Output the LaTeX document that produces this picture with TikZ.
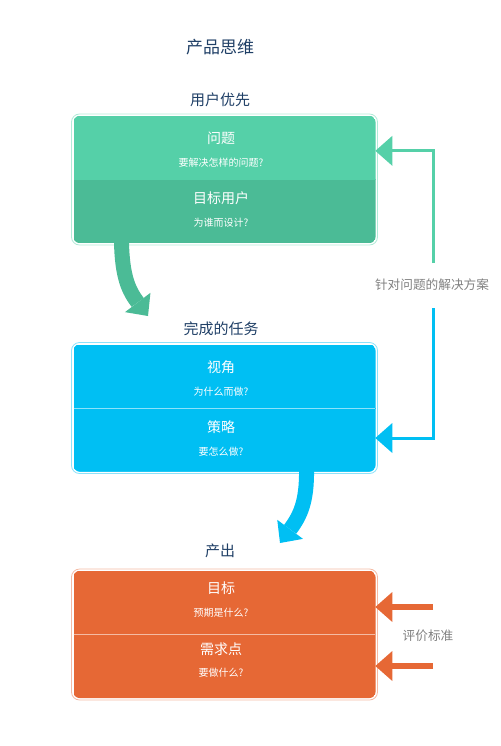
\documentclass[tikz,border=0pt]{standalone}
\usepackage{fontspec}
\newfontfamily\cjk{Noto Sans CJK SC}
\usetikzlibrary{arrows.meta,calc}

\definecolor{greenA}{HTML}{55D0A8}
\definecolor{greenB}{HTML}{4BBB96}
\definecolor{blueA}{HTML}{00BFF3}
\definecolor{orangeA}{HTML}{E66835}
\definecolor{navy}{HTML}{1F3F66}
\definecolor{labelgray}{HTML}{808080}

\tikzset{every picture/.style={line width=0.75pt}}
\tikzset{
  maintitle/.style={font=\cjk\fontsize{12.75}{15}\selectfont, text=navy, inner sep=0.75pt},
  heading/.style={font=\cjk\fontsize{11.25}{13}\selectfont, text=navy, inner sep=0.75pt},
  boxtitle/.style={font=\cjk\fontsize{10.5}{12}\selectfont, text=white, inner sep=0.75pt},
  boxnote/.style={font=\cjk\fontsize{7.5}{9}\selectfont, text=white, inner sep=0.75pt},
  sidenote/.style={font=\cjk\fontsize{9.5}{11}\selectfont, text=labelgray, inner sep=0.75pt},
  box/.style={rectangle, minimum width=225.75pt, minimum height=94.5pt, inner sep=0pt},
  part/.style={rectangle, minimum width=225.75pt, minimum height=47.25pt, inner sep=0pt, fill=#1, draw=#1, line width=0.5pt},
  halo/.style={draw=#1!45, line width=0.6pt, rounded corners=6pt},
  divider/.style={draw=#1!45!white, line width=0.75pt},
  bend arrow/.style={draw=#1, line width=11.25pt, -{Triangle[length=12.75pt,width=24pt,line width=0pt]}},
  side arrow/.style={draw=#1, line width=2.25pt, -{Triangle[length=12.75pt,width=22.5pt,line width=0pt]}},
}

\begin{document}
\begin{tikzpicture}[x=0.75pt,y=0.75pt,yscale=-1,xscale=1]
\useasboundingbox (0,0) rectangle (500,746);

% Text Node
\node[maintitle] (title) at (220,47) {产品思维};
\node[heading] (h1) at (220,100) {用户优先};
\node[heading] (h2) at (221,329) {完成的任务};
\node[heading] (h3) at (220,551) {产出};

%Shape: Rectangle (boxes)
\node[box] (green) at (224.5,179.5) {};
\node[box] (blue) at (224.5,408) {};
\node[box] (orange) at (224.5,634.5) {};

\begin{scope}
  \clip[rounded corners=4.5pt] (green.south west) rectangle (green.north east);
  \node[part=greenB, anchor=north] (g2) at ($(green.north)+(0,63)$) {};
  \node[part=greenA, anchor=north] (g1) at (green.north) {};
\end{scope}
\begin{scope}
  \clip[rounded corners=4.5pt] (blue.south west) rectangle (blue.north east);
  \node[part=blueA, anchor=north] (b1) at (blue.north) {};
  \node[part=blueA, anchor=north] (b2) at (b1.south) {};
\end{scope}
\begin{scope}
  \clip[rounded corners=4.5pt] (orange.south west) rectangle (orange.north east);
  \node[part=orangeA, anchor=north] (o1) at (orange.north) {};
  \node[part=orangeA, anchor=north] (o2) at (o1.south) {};
\end{scope}

%Straight Lines (dividers)
\draw[divider=blueA] (b1.south west) -- (b1.south east);
\draw[divider=orangeA] (o1.south west) -- (o1.south east);

%Shape: Rectangle (halos)
\draw[halo=greenA] ($(green.south west)+(-2,2)$) rectangle ($(green.north east)+(2,-2)$);
\draw[halo=blueA] ($(blue.south west)+(-2,2)$) rectangle ($(blue.north east)+(2,-2)$);
\draw[halo=orangeA] ($(orange.south west)+(-2,2)$) rectangle ($(orange.north east)+(2,-2)$);

% Text Node
\node[boxtitle] (t1) at (221,138) {问题};
\node[boxnote] (n1) at (221,163) {要解决怎样的问题?};
\node[boxtitle] (t2) at (221,198) {目标用户};
\node[boxnote] (n2) at (221,223) {为谁而设计?};
\node[boxtitle] (t3) at (221,367) {视角};
\node[boxnote] (n3) at (221,392) {为什么而做?};
\node[boxtitle] (t4) at (221,427) {策略};
\node[boxnote] (n4) at (221,452) {要怎么做?};
\node[boxtitle] (t5) at (221,588) {目标};
\node[boxnote] (n5) at (221,613) {预期是什么?};
\node[boxtitle] (t6) at (221,649) {需求点};
\node[boxnote] (n6) at (221,673) {要做什么?};

\node[sidenote] (sol) at (432,285) {针对问题的解决方案};
\node[sidenote] (crit) at (428,636) {评价标准};

%Curved Arrows
\coordinate (gtip) at (148,316);
\coordinate (btip) at (280,543);
\draw[bend arrow=greenB] ($(green.south west)+(48,-2)$) .. controls (122,277) and (129,291) .. (gtip);
\draw[bend arrow=blueA] ($(blue.south west)+(233,-2)$) .. controls (307,502) and (300,516) .. (btip);

%Straight Lines (side arrows)
\coordinate (solA) at (433,263);
\coordinate (solB) at (433,308);
\coordinate (ev1) at (433,607);
\coordinate (ev2) at (433,666);
\draw[side arrow=greenA] (solA) |- ($(g1.east)+(0,3)$);
\draw[side arrow=blueA] (solB) |- ($(b2.east)+(0,-2)$);
\draw[side arrow=orangeA, line width=4.5pt] (ev1) -- (ev1 -| o1.east);
\draw[side arrow=orangeA, line width=4.5pt] (ev2) -- (ev2 -| o2.east);

\end{tikzpicture}
\end{document}
